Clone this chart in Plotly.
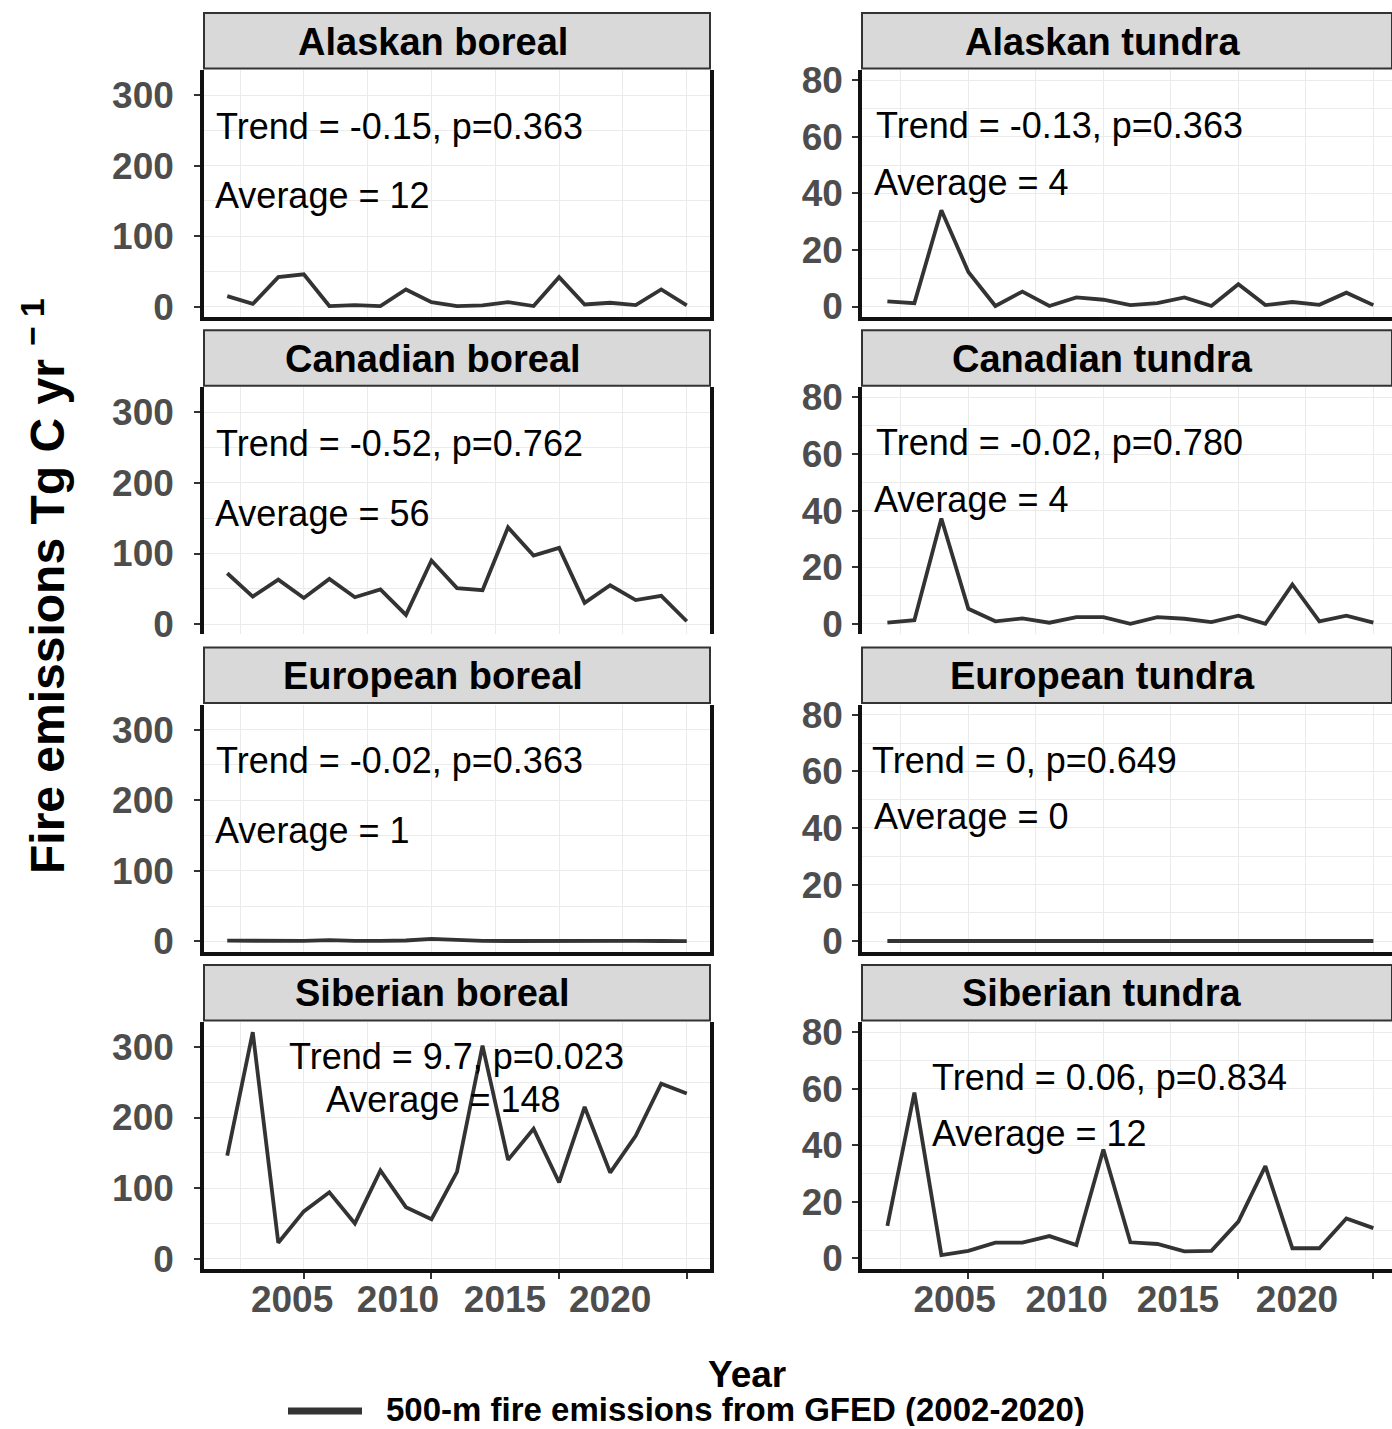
import plotly.graph_objects as go

# ---------------- data ----------------
years = list(range(2002, 2021))

panel_titles = ["Alaskan boreal", "Alaskan tundra",
                "Canadian boreal", "Canadian tundra",
                "European boreal", "European tundra",
                "Siberian boreal", "Siberian tundra"]

alaskan_boreal = [15, 4, 42, 46, 1, 2.4, 1, 24.5, 6.6, 1, 2, 6.6, 1, 42, 3.3, 5.7, 2.4, 24.5, 2]
alaskan_tundra = [1.8, 1.2, 34, 12.2, 0.2, 5.3, 0.2, 3.2, 2.4, 0.5, 1.2, 3.2, 0.2, 7.9, 0.5, 1.6, 0.6, 4.9, 0.5]
canadian_boreal = [72, 39, 63, 37, 64, 38, 49, 13, 90, 51, 48, 137, 97, 108, 30, 55, 34, 40, 4]
canadian_tundra = [0.4, 1.3, 37.2, 5.3, 0.9, 1.9, 0.4, 2.4, 2.4, 0, 2.4, 1.8, 0.6, 2.9, 0, 13.9, 0.9, 2.9, 0.4]
european_boreal = [1.0, 0.5, 0.5, 0.6, 1.8, 0.6, 0.8, 1.2, 3.5, 2.0, 0.6, 0.5, 0.8, 0.6, 0.5, 0.5, 0.7, 0.5, 0.4]
european_tundra = [0.05, 0.05, 0.05, 0.05, 0.05, 0.05, 0.05, 0.05, 0.05, 0.05, 0.05, 0.05, 0.1, 0.2, 0.3, 0.35, 0.2, 0.1, 0.05]
siberian_boreal = [146, 321, 22.6, 67, 94, 50, 125, 73, 56, 123, 302, 140, 184, 108, 215, 122, 174, 248, 234]
siberian_tundra = [11.5, 58.6, 1.2, 2.7, 5.6, 5.6, 7.9, 4.7, 38.5, 5.7, 5.1, 2.5, 2.7, 13, 32.6, 3.6, 3.6, 14.1, 10.7]

series = [alaskan_boreal, alaskan_tundra, canadian_boreal, canadian_tundra,
          european_boreal, european_tundra, siberian_boreal, siberian_tundra]

trend_text = ["Trend = -0.15, p=0.363", "Trend = -0.13, p=0.363",
              "Trend = -0.52, p=0.762", "Trend = -0.02, p=0.780",
              "Trend = -0.02, p=0.363", "Trend = 0, p=0.649",
              "Trend = 9.7, p=0.023", "Trend = 0.06, p=0.834"]
average_text = ["Average = 12", "Average = 4",
                "Average = 56", "Average = 4",
                "Average = 1", "Average = 0",
                "Average = 148", "Average = 12"]

# label placement (data coords): (x, y, xanchor) for trend and average text
trend_pos = [(2001.48, 256, "left"), (2001.5, 64, "left"),
             (2001.48, 256, "left"), (2001.5, 64, "left"),
             (2001.48, 256, "left"), (2001.35, 64, "left"),
             (2010.98, 286, "center"), (2003.58, 64, "left")]
average_pos = [(2001.43, 157, "left"), (2001.42, 44, "left"),
               (2001.43, 157, "left"), (2001.42, 44, "left"),
               (2001.43, 157, "left"), (2001.42, 44, "left"),
               (2010.47, 225, "center"), (2003.58, 44, "left")]

x_tick_years = [2005, 2010, 2015, 2020]
x_tick_labels = ["2005", "2010", "2015", "2020"]
# where the year labels sit (they are drawn compressed to the left in the original)
x_label_pos_left = [2004.54, 2008.69, 2012.88, 2017.0]
x_label_pos_right = [2004.49, 2008.64, 2012.76, 2017.17]

legend_label = "500-m fire emissions from GFED (2002-2020)"
y_title = "Fire emissions Tg C yr <sup>\u2212 1</sup>"
x_title = "Year"

# ---------------- layout geometry ----------------
W, H = 1392, 1429
FONT = "Liberation Sans, Arial, Helvetica, sans-serif"
LINE_COLOR = "#333333"
TICK_COLOR = "#4D4D4D"
GRID = "#EBEBEB"

col_px = [(204, 710), (862, 1392)]
row_top0, row_pitch, plot_h, strip_h = 70, 317.3, 247, 57
x_ranges = [[2001.09, 2020.91], [2001.06, 2020.69]]
y_ranges = [[-14.5, 335.5], [-3.7, 83.6]]
y_dticks = [100, 20]
y_standoff = [13, 2]

fig = go.Figure()
layout = {}

for k in range(8):
    r, c = divmod(k, 2)
    idx = k + 1
    xa = "x" if idx == 1 else f"x{idx}"
    ya = "y" if idx == 1 else f"y{idx}"
    xkey = "xaxis" if idx == 1 else f"xaxis{idx}"
    ykey = "yaxis" if idx == 1 else f"yaxis{idx}"
    top = row_top0 + r * row_pitch
    bot = top + plot_h
    x0p, x1p = col_px[c]
    bottom_row = (r == 3)
    show_bottom_line = (r != 1)

    fig.add_trace(go.Scatter(
        x=years, y=series[k], mode="lines", xaxis=xa, yaxis=ya,
        line=dict(color=LINE_COLOR, width=3.8),
        name=legend_label, showlegend=False, hoverinfo="skip"))

    layout[xkey] = dict(
        domain=[x0p / W, x1p / W], anchor=ya, range=x_ranges[c],
        tickmode="array", tickvals=x_tick_years,
        showticklabels=False, automargin=False,
        ticks="outside" if bottom_row else "", ticklen=6, tickwidth=2, tickcolor=LINE_COLOR,
        showgrid=True, gridcolor=GRID, gridwidth=1.3,
        minor=dict(tick0=2002.5, dtick=5, showgrid=True, gridcolor=GRID, gridwidth=1.3, ticks=""),
        zeroline=False,
        showline=show_bottom_line, linecolor="#111111", linewidth=3.5,
        mirror=False,
    )
    layout[ykey] = dict(
        domain=[1 - bot / H, 1 - top / H], anchor=xa, range=y_ranges[c],
        tick0=0, dtick=y_dticks[c], automargin=False,
        ticks="outside", ticklen=6, tickwidth=2, tickcolor=LINE_COLOR,
        tickfont=dict(family=FONT, size=37, color=TICK_COLOR, weight="bold"),
        ticklabelstandoff=y_standoff[c],
        showgrid=True, gridcolor=GRID, gridwidth=1.3,
        minor=dict(tick0=y_dticks[c] / 2, dtick=y_dticks[c], showgrid=True, gridcolor=GRID, gridwidth=1.3, ticks=""),
        zeroline=False,
        showline=True, linecolor="#111111", linewidth=3.5,
        mirror=(c == 0),
    )

    # strip (facet header)
    fig.add_shape(type="rect", xref=f"{xa} domain", yref=f"{ya} domain",
                  x0=0, x1=1, y0=1 + 1.5 / plot_h, y1=1 + strip_h / plot_h,
                  fillcolor="#D9D9D9", line=dict(color=LINE_COLOR, width=2), layer="above")
    fig.add_annotation(xref=f"{xa} domain", yref=f"{ya} domain",
                       x=0.452 if c == 0 else 0.453, y=1 + (strip_h / 2) / plot_h,
                       text=f"<b>{panel_titles[k]}</b>", showarrow=False,
                       xanchor="center", yanchor="middle",
                       font=dict(family=FONT, size=38, color="#000000"))

    # trend / average texts
    tx, ty, tanc = trend_pos[k]
    fig.add_annotation(xref=xa, yref=ya, x=tx, y=ty, text=trend_text[k], showarrow=False,
                       xanchor=tanc, yanchor="middle",
                       font=dict(family=FONT, size=36, color="#000000"))
    ax_, ay_, aanc = average_pos[k]
    fig.add_annotation(xref=xa, yref=ya, x=ax_, y=ay_, text=average_text[k], showarrow=False,
                       xanchor=aanc, yanchor="middle",
                       font=dict(family=FONT, size=36, color="#000000"))

# overlay axes carrying the (shifted) year labels for the bottom row
for c, (base_idx, new_idx, pos) in enumerate([(7, 9, x_label_pos_left), (8, 10, x_label_pos_right)]):
    x0p, x1p = col_px[c]
    layout[f"xaxis{new_idx}"] = dict(
        domain=[x0p / W, x1p / W], anchor=f"y{base_idx}", overlaying=f"x{base_idx}",
        range=x_ranges[c], tickmode="array", tickvals=pos, ticktext=x_tick_labels,
        showticklabels=True,
        ticks="", ticklabelstandoff=5, showgrid=False, zeroline=False, showline=False,
        automargin=False,
        tickfont=dict(family=FONT, size=37, color=TICK_COLOR, weight="bold"),
        side="bottom",
    )
    fig.add_trace(go.Scatter(x=[None], y=[None], mode="lines", xaxis=f"x{new_idx}",
                             yaxis=f"y{base_idx}", showlegend=False, hoverinfo="skip"))

# legend (key line + label), placed below the axis title as in the original
fig.add_shape(type="line", xref="paper", yref="paper",
              x0=288 / W, x1=362 / W, y0=1 - 1411 / H, y1=1 - 1411 / H,
              line=dict(color=LINE_COLOR, width=7))
fig.add_annotation(xref="paper", yref="paper", x=384 / W, y=1 - 1409 / H,
                   text=f"<b>{legend_label}</b>", showarrow=False, xanchor="left", yanchor="middle",
                   height=34, valign="middle",
                   font=dict(family=FONT, size=33, color="#000000"))

# axis titles
fig.add_annotation(xref="paper", yref="paper", x=747 / W, y=1 - 1374 / H,
                   text=f"<b>{x_title}</b>", showarrow=False, xanchor="center", yanchor="middle",
                   height=34, valign="middle",
                   font=dict(family=FONT, size=37, color="#000000"))
fig.add_annotation(xref="paper", yref="paper", x=44 / W, y=1 - 586 / H,
                   text=f"<b>{y_title}</b>", showarrow=False, textangle=-90,
                   xanchor="center", yanchor="middle",
                   font=dict(family=FONT, size=48, color="#000000"))

fig.update_layout(
    template="none",
    width=W, height=H,
    margin=dict(l=0, r=0, t=0, b=0, pad=0),
    plot_bgcolor="white", paper_bgcolor="white",
    showlegend=False,
    **layout,
)

fig.write_html("out.html", config={"displayModeBar": False},
               post_script="document.body.style.margin='0px';")
